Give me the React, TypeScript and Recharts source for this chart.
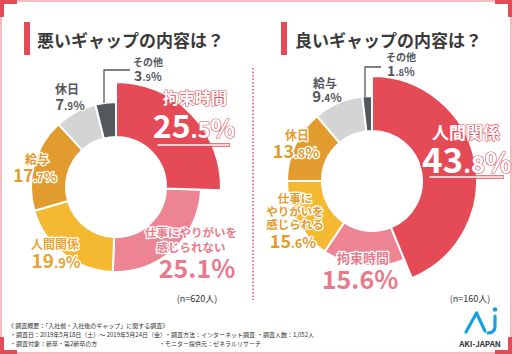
import React from "react";
import { PieChart, Pie, Cell } from "recharts";

// 悪いギャップ
const BAD_NAMES = ["拘束時間", "仕事にやりがいを感じられない", "人間関係", "給与", "休日", "その他"];
const BAD_LINES = [["拘束時間"], ["仕事にやりがいを", "感じられない"], ["人間関係"], ["給与"], ["休日"], ["その他"]];
const BAD_VALUES = [25.5, 25.1, 19.9, 17.7, 7.9, 3.9];

// 良いギャップ
const GOOD_NAMES = ["人間関係", "拘束時間", "仕事にやりがいを感じられる", "休日", "給与", "その他"];
const GOOD_LINES = [["人間関係"], ["拘束時間"], ["仕事に", "やりがいを", "感じられる"], ["休日"], ["給与"], ["その他"]];
const GOOD_VALUES = [43.8, 15.6, 15.6, 13.8, 9.4, 1.8];

const COLORS = ["#e54b57", "#ec8494", "#f4b930", "#e29b2e", "#d4d4d4", "#54575c"];

const FONT = '"Noto Sans CJK JP", "Noto Sans", sans-serif';
const RED = "#e54b57";
const PINK = "#e97a8b";
const ORANGE = "#e39b2c";
const GRAY = "#55575c";

// label placement, offsets from pie centre
type Place = {
  kind: "hero" | "text" | "other";
  color: string;
  lx: number; ly: number[]; ls: number;
  vx: number; vy: number; vs: number;
  split?: boolean;
  ux?: [number, number]; uy?: number;
  bx?: number; bw?: number; by?: number;
};

const BAD_PLACES: Place[] = [
  { kind: "hero", color: "#fff", lx: 79, ly: [-83], ls: 16, vx: 78, vy: -49, vs: 32, split: true, ux: [41, 114], uy: -42 },
  { kind: "text", color: PINK, lx: 75, ly: [50, 65], ls: 11.5, vx: 81, vy: 91, vs: 25 },
  { kind: "text", color: "#e8a330", lx: -61, ly: [62], ls: 12, vx: -60, vy: 81, vs: 19, split: true },
  { kind: "text", color: ORANGE, lx: -79, ly: [-23], ls: 12, vx: -81, vy: -5, vs: 17, split: true },
  { kind: "text", color: GRAY, lx: -49, ly: [-93], ls: 12, vx: -46, vy: -77, vs: 15, split: true },
  { kind: "other", color: GRAY, lx: 32, ly: [-121], ls: 10, vx: 32, vy: -106, vs: 14, split: true, bx: -12, bw: 26, by: -117 },
];

const GOOD_PLACES: Place[] = [
  { kind: "hero", color: "#fff", lx: 94, ly: [-42], ls: 17, vx: 95, vy: -8, vs: 35, split: true, ux: [57, 132], uy: -4 },
  { kind: "text", color: PINK, lx: -9, ly: [82], ls: 13, vx: -12, vy: 108, vs: 25 },
  { kind: "text", color: ORANGE, lx: -77, ly: [22, 35, 48], ls: 11.5, vx: -79, vy: 67, vs: 18, split: true },
  { kind: "text", color: ORANGE, lx: -75, ly: [-41], ls: 12, vx: -76, vy: -23, vs: 18, split: true },
  { kind: "text", color: GRAY, lx: -47, ly: [-93], ls: 12, vx: -45, vy: -79, vs: 15, split: true },
  { kind: "other", color: GRAY, lx: 29, ly: [-120], ls: 10, vx: 29, vy: -105, vs: 14, split: true, bx: -7, bw: 16, by: -114 },
];

const Value = ({ v, size, split }: { v: number; size: number; split?: boolean }) => {
  const [a, b] = v.toFixed(1).split(".");
  if (!split) return <tspan>{`${a}.${b}%`}</tspan>;
  return (
    <>
      <tspan>{a}</tspan>
      <tspan fontSize={size * 0.68}>{`.${b}`}</tspan>
      <tspan fontSize={size * 0.8}>%</tspan>
    </>
  );
};

const makeLabel = (lines: string[][], values: number[], places: Place[]) => (props: any) => {
  const { index } = props;
  const cx = Number(props.cx);
  const cy = Number(props.cy);
  const p = places[index];
  const hero = p.kind === "hero";
  const common = {
    fontFamily: FONT,
    fontWeight: 700,
    textAnchor: "middle" as const,
    fill: p.color,
    stroke: hero ? RED : "#fff",
    strokeWidth: hero ? 1.2 : 2.5,
    paintOrder: "stroke" as const,
    strokeLinejoin: "round" as const,
  };
  return (
    <g key={`lab-${index}`}>
      {p.kind === "other" && p.bx !== undefined && (
        <path
          d={`M${cx + p.bx},${cy - 84} V${cy + (p.by ?? 0)} H${cx + p.bx + (p.bw ?? 0)}`}
          fill="none"
          stroke={GRAY}
          strokeWidth={1.3}
        />
      )}
      {lines[index].map((t, i) => (
        <text key={i} x={cx + p.lx} y={cy + p.ly[i]} fontSize={p.ls} {...common}>
          {t}
        </text>
      ))}
      <text x={cx + p.vx} y={cy + p.vy} fontSize={p.vs} {...common}>
        <Value v={values[index]} size={p.vs} split={p.split} />
      </text>
      {hero && p.ux && p.uy !== undefined && (
        <>
          <line x1={cx + p.ux[0]} x2={cx + p.ux[1]} y1={cy + p.uy} y2={cy + p.uy} stroke={RED} strokeWidth={3.5} />
          <line x1={cx + p.ux[0] + 0.5} x2={cx + p.ux[1] - 0.5} y1={cy + p.uy} y2={cy + p.uy} stroke="#fff" strokeWidth={1.6} />
        </>
      )}
    </g>
  );
};

const badData = BAD_NAMES.map((name, i) => ({ name, value: BAD_VALUES[i] }));
const goodData = GOOD_NAMES.map((name, i) => ({ name, value: GOOD_VALUES[i] }));

const Donut = ({ data, cx, cy, lines, values, places }: any) => [
  <Pie
    key={`base-${cx}`}
    data={data}
    dataKey="value"
    cx={cx}
    cy={cy}
    innerRadius={50}
    outerRadius={85}
    startAngle={90}
    endAngle={-270}
    stroke="#fff"
    strokeWidth={2}
    isAnimationActive={false}
  >
    {data.map((_: any, i: number) => (
      <Cell key={i} fill={i === 0 ? "none" : COLORS[i]} stroke={i === 0 ? "none" : "#fff"} />
    ))}
  </Pie>,
  <Pie
    key={`top-${cx}`}
    data={data}
    dataKey="value"
    cx={cx}
    cy={cy}
    innerRadius={50}
    outerRadius={105}
    startAngle={90}
    endAngle={-270}
    strokeWidth={2}
    labelLine={false}
    label={makeLabel(lines, values, places)}
    isAnimationActive={false}
  >
    {data.map((_: any, i: number) => (
      <Cell key={i} fill={i === 0 ? COLORS[0] : "none"} stroke={i === 0 ? "#fff" : "none"} />
    ))}
  </Pie>,
];

const Logo = () => (
  <g>
    <path d="M466,332 L476.5,313 L485,331" fill="none" stroke="#1a9fe0" strokeWidth={3.2} strokeLinecap="round" strokeLinejoin="round" />
    <path d="M495,316 V326 Q495,333 488,333" fill="none" stroke="#1a9fe0" strokeWidth={3.2} strokeLinecap="round" />
    <circle cx={495} cy={309.5} r={2.3} fill="#1a9fe0" />
    <text x={480} y={347} textAnchor="middle" fontFamily={FONT} fontWeight={700} fontSize={8} fill="#333">
      AKI-JAPAN
    </text>
  </g>
);

const Overlay = () => (
  <svg width={512} height={354} style={{ position: "absolute", left: 0, top: 0, pointerEvents: "none" }}>
    {/* frame */}
    <rect x={1} y={1} width={510} height={352} fill="none" stroke="#f3a6ad" strokeWidth={1.5} />
    <path d="M2,17 V2 H17" fill="none" stroke={RED} strokeWidth={4} />
    <path d="M495,2 H510 V17" fill="none" stroke={RED} strokeWidth={4} />
    <path d="M2,337 V352 H17" fill="none" stroke={RED} strokeWidth={4} />
    <path d="M495,352 H510 V337" fill="none" stroke={RED} strokeWidth={4} />

    {/* titles */}
    <rect x={24} y={22} width={6} height={33} fill={RED} />
    <text x={37} y={47} fontFamily={FONT} fontWeight={700} fontSize={17} fill="#3a3a3a">
      悪いギャップの内容は？
    </text>
    <rect x={281} y={22} width={6} height={33} fill={RED} />
    <text x={295} y={47} fontFamily={FONT} fontWeight={700} fontSize={17} fill="#3a3a3a">
      良いギャップの内容は？
    </text>

    {/* divider */}
    <line x1={253} x2={253} y1={68} y2={300} stroke={RED} strokeWidth={1.5} strokeDasharray="1.5 2" />

    {/* sample sizes */}
    <text x={197} y={302} textAnchor="middle" fontFamily={FONT} fontSize={9} fill="#333">
      (n=620人)
    </text>
    <text x={470} y={302} textAnchor="middle" fontFamily={FONT} fontSize={9} fill="#333">
      (n=160人)
    </text>

    {/* footer */}
    <g fontFamily={FONT} fontSize={6} fill="#333">
      <text x={8} y={328}>《 調査概要：「入社前・入社後のギャップ」に関する調査》</text>
      <text x={10} y={337}>・調査日：2019年5月18日（土）～ 2019年5月24日（金）</text>
      <text x={165} y={337}>・調査方法：インターネット調査</text>
      <text x={257} y={337}>・調査人数：1,052人</text>
      <text x={10} y={346}>・調査対象：新卒・第2新卒の方</text>
      <text x={159} y={346}>・モニター提供元：ゼネラルリサーチ</text>
    </g>
    <Logo />
  </svg>
);

export default function App() {
  return (
    <div style={{ position: "absolute", left: 0, top: 0, width: 512, height: 354, background: "#fff" }}>
      <PieChart width={512} height={354} margin={{ top: 0, right: 0, bottom: 0, left: 0 }}>
        {Donut({ data: badData, cx: 116, cy: 187, lines: BAD_LINES, values: BAD_VALUES, places: BAD_PLACES })}
        {Donut({ data: goodData, cx: 372, cy: 181, lines: GOOD_LINES, values: GOOD_VALUES, places: GOOD_PLACES })}
      </PieChart>
      <Overlay />
    </div>
  );
}
